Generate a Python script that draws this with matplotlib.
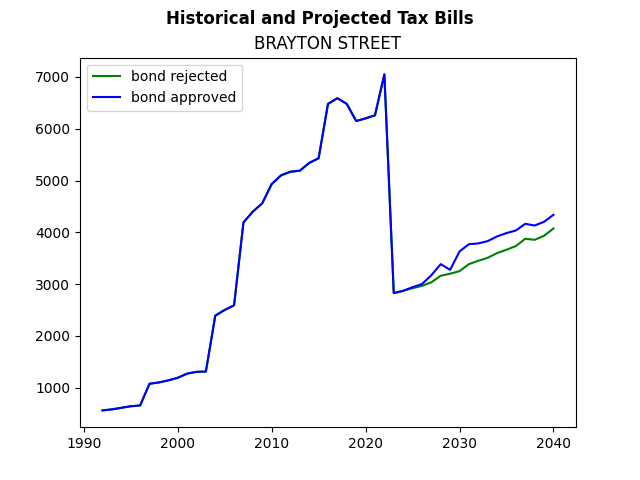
import matplotlib
matplotlib.use('Agg')
import matplotlib.pyplot as plt

# historical tax bills (same under both scenarios)
hist_years = list(range(1992, 2024))
hist_bills = [560, 580, 610, 640, 655, 1075, 1100, 1140, 1190, 1270, 1305, 1310,
              2390, 2500, 2590, 4190, 4400, 4560, 4930, 5100, 5170, 5190, 5340, 5430,
              6480, 6590, 6480, 6150, 6200, 6260, 7050, 2825]

# projections 2024-2040
proj_years = list(range(2024, 2041))
proj_rejected = [2870, 2920, 2965, 3035, 3160, 3200, 3250, 3385, 3450, 3508, 3598,
                 3663, 3734, 3875, 3855, 3933, 4074]
proj_approved = [2870, 2940, 3000, 3170, 3385, 3275, 3630, 3770, 3785, 3830, 3920,
                 3985, 4035, 4164, 4131, 4203, 4338]

years = hist_years + proj_years
rejected = hist_bills + proj_rejected
approved = hist_bills + proj_approved

fig, ax = plt.subplots(figsize=(6.4, 4.8), dpi=100)
fig.suptitle('Historical and Projected Tax Bills', fontweight='bold')
ax.set_title('BRAYTON STREET')

ax.plot(years, rejected, color='green', label='bond rejected')
ax.plot(years, approved, color='blue', label='bond approved')
ax.legend(loc='upper left')

fig.savefig('out.png')
